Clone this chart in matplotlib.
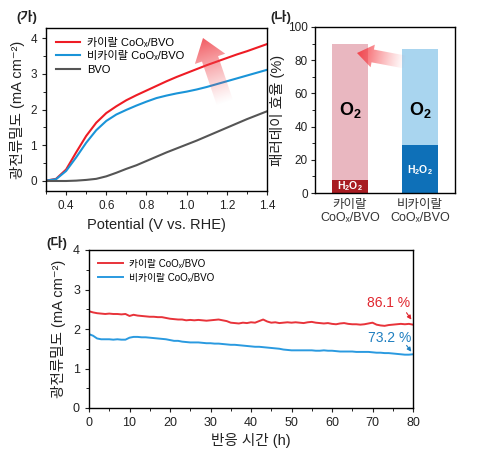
import numpy as np
import matplotlib
matplotlib.use("Agg")
import matplotlib.pyplot as plt
from matplotlib.patches import Polygon
from matplotlib.ticker import MultipleLocator

plt.rcParams['font.family'] = ['Liberation Sans', 'Noto Sans CJK KR', 'DejaVu Sans']
plt.rcParams['mathtext.fontset'] = 'custom'
plt.rcParams['mathtext.rm'] = 'Liberation Sans'
plt.rcParams['mathtext.bf'] = 'Liberation Sans:bold'
plt.rcParams['mathtext.it'] = 'Liberation Sans:italic'
plt.rcParams['axes.linewidth'] = 1.0

# (가) LSV curves
potential = [0.30, 0.35, 0.40, 0.45, 0.50, 0.55, 0.60, 0.65, 0.70, 0.75, 0.80, 0.85,
             0.90, 0.95, 1.00, 1.05, 1.10, 1.15, 1.20, 1.25, 1.30, 1.35, 1.40]
lsv_chiral = [0.01, 0.06, 0.32, 0.80, 1.26, 1.63, 1.90, 2.09, 2.26, 2.40, 2.53, 2.66,
              2.79, 2.91, 3.02, 3.13, 3.24, 3.34, 3.44, 3.54, 3.63, 3.73, 3.83]
lsv_achiral = [0.01, 0.05, 0.28, 0.66, 1.07, 1.42, 1.68, 1.86, 1.99, 2.11, 2.22, 2.32,
               2.39, 2.45, 2.50, 2.56, 2.63, 2.71, 2.79, 2.87, 2.95, 3.03, 3.11]
lsv_bvo = [0.00, 0.00, 0.00, 0.01, 0.03, 0.06, 0.13, 0.23, 0.34, 0.44, 0.56, 0.68,
           0.80, 0.91, 1.02, 1.13, 1.25, 1.37, 1.49, 1.61, 1.73, 1.84, 1.95]
lsv_labels = ['카이랄 CoOₓ/BVO', '비카이랄 CoOₓ/BVO', 'BVO']

# (나) Faradaic efficiency
fe_names = ['카이랄\nCoOₓ/BVO', '비카이랄\nCoOₓ/BVO']
fe_h2o2 = [8, 29]
fe_o2 = [82, 58]

# (다) stability
hours = np.arange(0, 81)
stab_chiral = [2.45, 2.42, 2.40, 2.39, 2.38, 2.39, 2.38, 2.38, 2.37, 2.38,
               2.33, 2.36, 2.34, 2.33, 2.32, 2.31, 2.31, 2.30, 2.30, 2.28,
               2.26, 2.25, 2.24, 2.24, 2.22, 2.23, 2.22, 2.23, 2.22, 2.21,
               2.22, 2.23, 2.24, 2.22, 2.20, 2.16, 2.15, 2.14, 2.16, 2.15,
               2.17, 2.16, 2.20, 2.24, 2.19, 2.16, 2.17, 2.15, 2.16, 2.17,
               2.16, 2.17, 2.16, 2.15, 2.17, 2.18, 2.16, 2.15, 2.14, 2.15,
               2.13, 2.12, 2.14, 2.15, 2.13, 2.12, 2.12, 2.11, 2.12, 2.14,
               2.16, 2.11, 2.09, 2.08, 2.10, 2.11, 2.12, 2.13, 2.12, 2.13,
               2.11]
stab_achiral = [1.87, 1.83, 1.76, 1.74, 1.74, 1.74, 1.73, 1.74, 1.73, 1.73,
                1.78, 1.80, 1.80, 1.79, 1.79, 1.78, 1.77, 1.76, 1.75, 1.74,
                1.72, 1.70, 1.70, 1.68, 1.67, 1.66, 1.66, 1.66, 1.65, 1.64,
                1.64, 1.63, 1.63, 1.62, 1.61, 1.60, 1.60, 1.59, 1.58, 1.57,
                1.56, 1.55, 1.55, 1.54, 1.53, 1.52, 1.51, 1.50, 1.48, 1.47,
                1.46, 1.46, 1.46, 1.46, 1.46, 1.46, 1.45, 1.45, 1.46, 1.45,
                1.45, 1.44, 1.43, 1.43, 1.43, 1.43, 1.42, 1.42, 1.42, 1.42,
                1.41, 1.40, 1.40, 1.39, 1.39, 1.38, 1.37, 1.36, 1.35, 1.35,
                1.36]
stab_labels = ['카이랄 CoOₓ/BVO', '비카이랄 CoOₓ/BVO']

RED = '#ee1c25'
BLUE = '#1a94d8'
GREY = '#555555'
TXT = '#222222'

W, H = 479, 454
fig = plt.figure(figsize=(W / 100, H / 100), dpi=100)


def px_axes(l, t, r, b):
    return fig.add_axes([l / W, 1 - b / H, (r - l) / W, (b - t) / H])


def grad_arrow(ax, tail, tip, shaft_w, head_w, head_l, rgb, amax):
    tail = np.array(tail, float)
    tip = np.array(tip, float)
    d = tip - tail
    L = np.hypot(*d)
    u = d / L
    n = np.array([-u[1], u[0]])
    neck = tip - u * head_l
    verts = [tail + n * shaft_w / 2, neck + n * shaft_w / 2, neck + n * head_w / 2, tip,
             neck - n * head_w / 2, neck - n * shaft_w / 2, tail - n * shaft_w / 2]
    poly = Polygon(verts, closed=True, fc='none', ec='none')
    ax.add_patch(poly)
    xs = [v[0] for v in verts]
    ys = [v[1] for v in verts]
    x0, x1, y0, y1 = min(xs), max(xs), min(ys), max(ys)
    gx, gy = np.meshgrid(np.linspace(x0, x1, 200), np.linspace(y0, y1, 200))
    t = ((gx - tail[0]) * u[0] + (gy - tail[1]) * u[1]) / L
    t = np.clip(t, 0, 1)
    img = np.zeros((200, 200, 4))
    img[..., :3] = rgb
    img[..., 3] = amax * t ** 1.2
    im = ax.imshow(img, extent=(x0, x1, y1, y0), origin='upper', aspect='auto',
                   interpolation='bilinear')
    im.set_clip_path(poly)


# ---- (가)
ax1 = px_axes(46, 28, 267, 191)
ax1.plot(potential, lsv_chiral, color=RED, lw=1.5, label=lsv_labels[0])
ax1.plot(potential, lsv_achiral, color=BLUE, lw=1.5, label=lsv_labels[1])
ax1.plot(potential, lsv_bvo, color=GREY, lw=1.5, label=lsv_labels[2])
ax1.set_xlim(0.3, 1.4)
ax1.set_ylim(-0.28, 4.28)
ax1.xaxis.set_major_locator(MultipleLocator(0.2))
ax1.xaxis.set_minor_locator(MultipleLocator(0.1))
ax1.yaxis.set_major_locator(MultipleLocator(1))
ax1.yaxis.set_minor_locator(MultipleLocator(0.5))
ax1.tick_params(labelsize=8.5, length=3, width=0.8, colors=TXT)
ax1.tick_params(which='minor', length=2, width=0.6)
ax1.set_xlabel('Potential (V vs. RHE)', fontsize=10.5, color=TXT, labelpad=4)
ax1.set_ylabel('광전류밀도 (mA cm⁻²)', fontsize=10.5, color=TXT, labelpad=4)
ax1.legend(loc='upper left', frameon=False, fontsize=8, handlelength=2.2,
           labelspacing=0.3, borderaxespad=0.5, handletextpad=0.6)

# ---- (나)
ax2 = px_axes(315, 27, 455, 193)
xpos = np.arange(len(fe_names))
ax2.bar(xpos, fe_h2o2, width=0.52, color=['#a81c22', '#0e70b8'])
ax2.bar(xpos, fe_o2, width=0.52, bottom=fe_h2o2, color=['#e9b7c0', '#a9d5ef'])
ax2.set_xlim(-0.5, 1.5)
ax2.set_ylim(0, 100)
ax2.set_xticks(xpos)
ax2.set_xticklabels(fe_names, fontsize=9, color='#333333')
ax2.yaxis.set_major_locator(MultipleLocator(20))
ax2.yaxis.set_minor_locator(MultipleLocator(10))
ax2.tick_params(axis='y', labelsize=8.5, length=3, width=0.8, colors=TXT, pad=2)
ax2.tick_params(axis='y', which='minor', length=2, width=0.6)
ax2.tick_params(axis='x', length=0, pad=4)
ax2.set_ylabel('패러데이 효율 (%)', fontsize=10.5, color=TXT, labelpad=2)
for i in range(len(fe_names)):
    ax2.text(xpos[i], 50, r'$\mathbf{O_2}$', fontsize=13,
             ha='center', va='center', color='black')
    ax2.text(xpos[i], fe_h2o2[i] / 2 - (0 if i == 0 else 1), r'$\mathbf{H_2O_2}$',
             fontsize=7.5, ha='center', va='center', color='white')

# ---- (다)
ax3 = px_axes(89, 250, 413, 408)
ax3.plot(hours, stab_chiral, color='#e8333a', lw=1.4, label=stab_labels[0])
ax3.plot(hours, stab_achiral, color='#2a9ae0', lw=1.4, label=stab_labels[1])
ax3.set_xlim(0, 80)
ax3.set_ylim(0, 4)
ax3.xaxis.set_major_locator(MultipleLocator(10))
ax3.xaxis.set_minor_locator(MultipleLocator(5))
ax3.yaxis.set_major_locator(MultipleLocator(1))
ax3.yaxis.set_minor_locator(MultipleLocator(0.5))
ax3.tick_params(labelsize=9, length=3, width=0.8, colors=TXT)
ax3.tick_params(which='minor', length=2, width=0.6)
ax3.set_xlabel('반응 시간 (h)', fontsize=10.5, color=TXT, labelpad=3)
ax3.set_ylabel('광전류밀도 (mA cm⁻²)', fontsize=10.5, color=TXT, labelpad=5)
ax3.legend(loc='upper left', frameon=False, fontsize=7, handlelength=2.6,
           labelspacing=0.4, borderaxespad=0.5, handletextpad=0.6)
ax3.text(74, 2.66, '86.1 %', color='#e0262e', fontsize=10, ha='center', va='center')
ax3.annotate('', xy=(80, 2.18), xytext=(78, 2.47),
             arrowprops=dict(arrowstyle='-|>', color='#e0262e', lw=0.8, mutation_scale=6))
ax3.text(74.3, 1.77, '73.2 %', color='#1f7fc0', fontsize=10, ha='center', va='center')
ax3.annotate('', xy=(80, 1.37), xytext=(78, 1.64),
             arrowprops=dict(arrowstyle='-|>', color='#1f7fc0', lw=0.8, mutation_scale=6))

# ---- overlay: gradient arrows and panel labels (pixel coordinates)
ov = fig.add_axes([0, 0, 1, 1], zorder=10)
ov.set_axis_off()
grad_arrow(ov, (225, 103), (203, 38), 17, 32, 22, (0.94, 0.25, 0.28), 0.85)
grad_arrow(ov, (405, 62), (357, 53), 13, 23, 16, (0.96, 0.22, 0.25), 0.9)
ov.set_xlim(0, W)
ov.set_ylim(H, 0)
ov.text(27, 17, '(가)', fontsize=9.5, fontweight='bold', ha='center', va='center', color=TXT)
ov.text(281, 17, '(나)', fontsize=9.5, fontweight='bold', ha='center', va='center', color=TXT)
ov.text(57, 243, '(다)', fontsize=9.5, fontweight='bold', ha='center', va='center', color=TXT)

fig.savefig('out.png', dpi=100)
